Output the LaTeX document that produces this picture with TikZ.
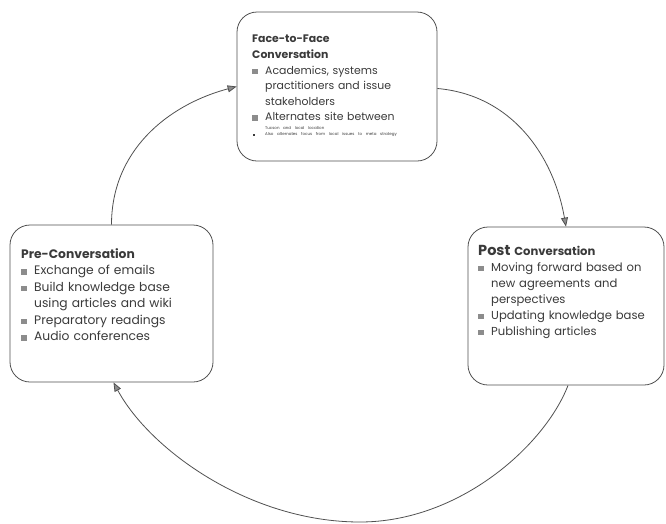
\documentclass[tikz,border=0pt]{standalone}
\usepackage{fontspec}
\setmainfont{Poppins}
\usetikzlibrary{arrows.meta,calc}
\definecolor{inkgray}{HTML}{3A3A3A}
\definecolor{linegray}{HTML}{505050}
\definecolor{bulletgray}{HTML}{8C8C8C}
\newcommand{\sqbullet}{\textcolor{bulletgray}{\rule{5.5pt}{5.5pt}}}
\newcommand{\bitem}[1]{\par\hangindent=13pt\hangafter=1\noindent\makebox[13pt][l]{\sqbullet}#1}
\hyphenpenalty=10000
\exhyphenpenalty=10000
\tikzset{
  stagebox/.style={draw=linegray, line width=0.8pt, rounded corners=20pt, inner sep=0pt},
  stagetext/.style={anchor=north west, inner sep=0pt, align=left, text=inkgray,
    text width=210pt, font=\fontsize{12.3}{16.5}\selectfont},
  cycle arrow/.style={draw=linegray, line width=0.8pt,
    -{Triangle[length=9pt,width=7pt,fill=bulletgray]}}
}
\begin{document}
\begin{tikzpicture}[x=1pt,y=-1pt]
   \useasboundingbox (0,0) rectangle (666,523);
   \node[stagebox, minimum width=200pt, minimum height=149pt] (face) at (337,86.5) {};
   \node[stagebox, minimum width=203pt, minimum height=157pt] (pre) at (111.5,303.5) {};
   \node[stagebox, minimum width=196pt, minimum height=158pt] (post) at (566,306) {};

   \node[stagetext, text width=180pt, font=\fontsize{10.9}{15.6}\selectfont] (facetxt) at (252,35) {%
     {\bfseries Face-to-Face\newline Conversation}
     \bitem{Academics, systems\newline practitioners and issue\newline stakeholders}
     \bitem{Alternates site between}\par
     {\fontsize{4}{8.5}\selectfont\hspace*{13pt}Tucson and local location\par
     \fontsize{4}{6.5}\selectfont
     \noindent\makebox[13pt][l]{\hspace*{1pt}\rule{2pt}{2pt}}Also alternates focus from local issues to meta strategy\par}};
   \node[stagetext] (pretxt) at (21,248) {%
     {\bfseries Pre-Conversation}
     \bitem{Exchange of emails}
     \bitem{Build knowledge base\newline using articles and wiki}
     \bitem{Preparatory readings}
     \bitem{Audio conferences}};
   \node[stagetext, font=\fontsize{11.6}{16}\selectfont] (posttxt) at (478,245) {%
     {\bfseries{\fontsize{14.5}{16}\selectfont Post} Conversation}
     \bitem{Moving forward based on\newline new agreements and\newline perspectives}
     \bitem{Updating knowledge base}
     \bitem{Publishing articles}};

   \draw[cycle arrow] (pre.north) to[out=90,in=195] (face.west);
   \draw[cycle arrow] ($(face.east)+(0,2)$) to[out=-5,in=100] (post.north);
   \draw[cycle arrow] ($(post.south)+(2,0)$) .. controls (545,445) and (460,522) .. (360,522)
      .. controls (250,522) and (150,450) .. ($(pre.south)+(2,0)$);
\end{tikzpicture}
\end{document}
